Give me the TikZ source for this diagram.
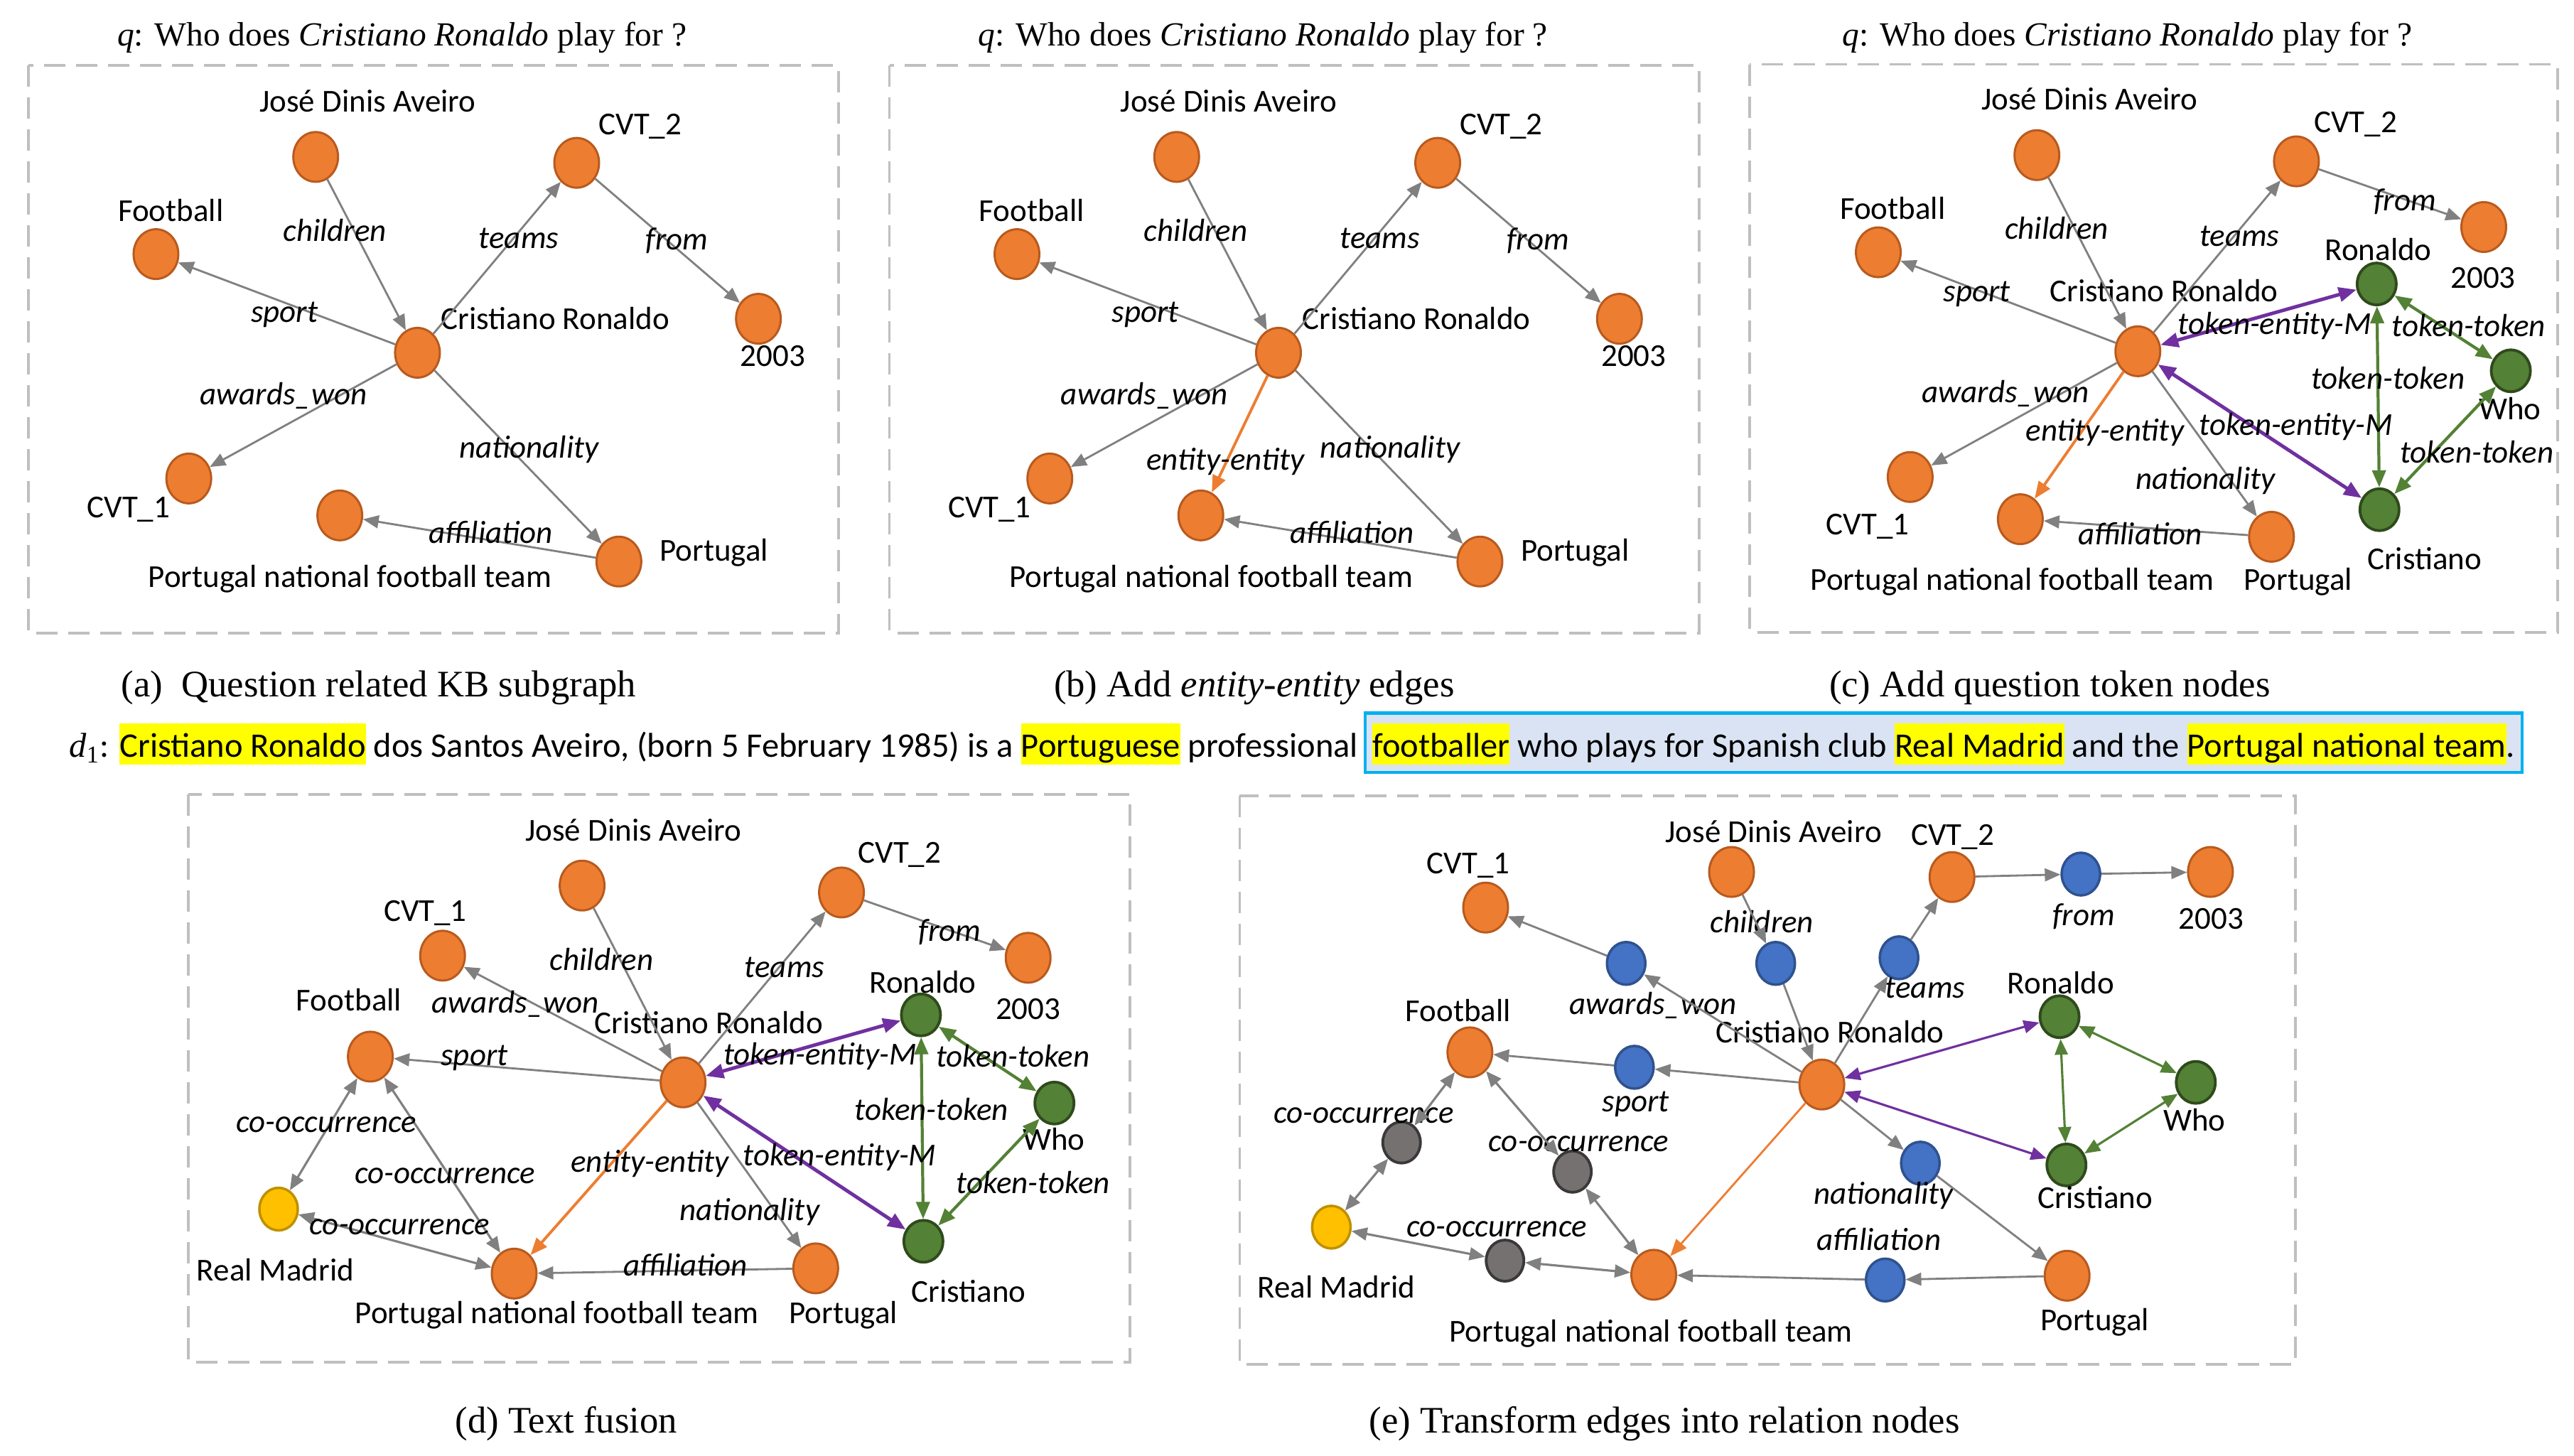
\documentclass[tikz,border=0pt]{standalone}
\usepackage{fontspec}
\setmainfont{Carlito}
\newfontfamily\serifcap{Liberation Serif}
\usetikzlibrary{shapes.geometric,arrows.meta}
\definecolor{entf}{HTML}{ED7D31}
\definecolor{entd}{HTML}{B85A1E}
\definecolor{tokf}{HTML}{538135}
\definecolor{tokd}{HTML}{2F4A1C}
\definecolor{relf}{HTML}{4472C4}
\definecolor{reld}{HTML}{2F528F}
\definecolor{cof}{HTML}{767171}
\definecolor{cod}{HTML}{3A3838}
\definecolor{rmf}{HTML}{FFC000}
\definecolor{rmd}{HTML}{BF9000}
\definecolor{edgec}{HTML}{808080}
\definecolor{purp}{HTML}{7030A0}
\definecolor{boxg}{HTML}{BFBFBF}
\definecolor{hly}{HTML}{FFFF00}
\definecolor{boxf}{HTML}{DAE3F3}
\definecolor{boxd}{HTML}{00B0F0}
\newcommand\lblfont{\fontsize{12.8}{15}\selectfont}
\newcommand\dfont{\fontsize{13.8}{16}\selectfont}
\newcommand\hlt[1]{{\setlength{\fboxsep}{0pt}\colorbox{hly}{\rule[-0.104cm]{0pt}{0.58cm}#1}}}
\newcommand\kbgraph[1]{%
 \node[ent] (#1jose) at (192.3,95.6) {};
 \node[lab] (#1josel) at (224,62) {José Dinis Aveiro};
 \node[ent] (#1cvt2) at (351.3,99.2) {};
 \node[lab] (#1cvt2l) at (390,75.8) {CVT\_2};
 \node[ent] (#1foot) at (95,154.8) {};
 \node[lab] (#1footl) at (104,128.6) {Football};
 \node[ent] (#1cr) at (254.3,214.9) {};
 \node[lab] (#1crl) at (338.3,194.5) {Cristiano Ronaldo};
 \node[ent] (#1y) at (462,194.2) {};
 \node[lab] (#1yl) at (470.7,217) {2003};
 \node[ent] (#1cvt1) at (115,291.5) {};
 \node[lab] (#1cvt1l) at (78.3,309) {CVT\_1};
 \node[ent] (#1pnft) at (207,314) {};
 \node[lab] (#1pnftl) at (213.3,351.8) {Portugal national football team};
 \node[ent] (#1por) at (377,342.1) {};
 \node[lab] (#1porl) at (435,335.5) {Portugal};
 \draw[rel] (#1jose) -- (#1cr);
 \draw[rel] (#1cr) -- (#1cvt2);
 \draw[rel] (#1cvt2) -- (#1y);
 \draw[rel] (#1cr) -- (#1foot);
 \draw[rel] (#1cr) -- (#1cvt1);
 \draw[rel] (#1cr) -- (#1por);
 \draw[rel] (#1por) -- (#1pnft);
 \node[elab] (#1e1) at (204,141) {children};
 \node[elab] (#1e2) at (316,145.2) {teams};
 \node[elab] (#1e3) at (412.3,146) {from};
 \node[elab] (#1e4) at (173.3,190) {sport};
 \node[elab] (#1e5) at (172.7,240.5) {awards\_won};
 \node[elab] (#1e6) at (322.3,272.7) {nationality};
 \node[elab] (#1e7) at (299,325) {affiliation};
 \draw[panelbox] (17.3,40) rectangle (510.7,385.7);
 \node[qline] (#1q) at (71.2,21) {\textit{q}: Who does \textit{Cristiano Ronaldo} play for ?};
}
\begin{document}
\begin{tikzpicture}[x=0.0231cm,y=-0.0231cm,
 ent/.style={ellipse, draw=entd, fill=entf, line width=0.85pt, minimum width=0.63cm, minimum height=0.70cm, inner sep=0pt},
 tok/.style={ellipse, draw=tokd, fill=tokf, line width=1.1pt, minimum width=0.55cm, minimum height=0.59cm, inner sep=0pt},
 reln/.style={ellipse, draw=reld, fill=relf, line width=1pt, minimum width=0.54cm, minimum height=0.60cm, inner sep=0pt},
 con/.style={ellipse, draw=cod, fill=cof, line width=1.1pt, minimum width=0.53cm, minimum height=0.58cm, inner sep=0pt},
 rmn/.style={ellipse, draw=rmd, fill=rmf, line width=1pt, minimum width=0.54cm, minimum height=0.60cm, inner sep=0pt},
 lab/.style={inner sep=0pt, text height=8.1pt, text depth=0pt, font=\lblfont},
 elab/.style={inner sep=0pt, text height=8.1pt, text depth=0pt, font=\lblfont\itshape},
 qline/.style={inner sep=0pt, anchor=west, text height=8.9pt, text depth=0pt, font=\serifcap\fontsize{13.5}{16}\selectfont},
 capt/.style={inner sep=0pt, text height=9.9pt, text depth=0pt, font=\serifcap\fontsize{15}{18}\selectfont},
 panelbox/.style={draw=boxg, line width=1.1pt, dash pattern=on 0.3cm off 0.15cm},
 rel/.style={draw=edgec, line width=0.8pt, -{Triangle[length=0.22cm,width=0.18cm]}},
 relb/.style={draw=edgec, line width=0.9pt, {Triangle[length=0.22cm,width=0.18cm]}-{Triangle[length=0.22cm,width=0.18cm]}},
 eent/.style={draw=entf, line width=1.1pt, -{Triangle[length=0.24cm,width=0.19cm]}},
 tem/.style={draw=purp, line width=1.4pt, {Triangle[length=0.25cm,width=0.2cm]}-{Triangle[length=0.25cm,width=0.2cm]}},
 ttk/.style={draw=tokf, line width=1.2pt, {Triangle[length=0.24cm,width=0.19cm]}-{Triangle[length=0.24cm,width=0.19cm]}},
 temthin/.style={draw=purp, line width=0.9pt, {Triangle[length=0.22cm,width=0.18cm]}-{Triangle[length=0.22cm,width=0.18cm]}},
 ttkthin/.style={draw=tokf, line width=0.9pt, {Triangle[length=0.22cm,width=0.18cm]}-{Triangle[length=0.22cm,width=0.18cm]}}
]
\useasboundingbox (0,0) rectangle (1568,886.6);
% ---------- (a)
\kbgraph{a}
\node[capt, anchor=west] (capa) at (73.5,416.9) {(a)\ \ Question related KB subgraph};
% ---------- (b)
\begin{scope}[shift={(524.5,0)}]
\kbgraph{b}
\draw[eent] (bcr) -- (bpnft);
\node[elab] (be8) at (222,280) {entity-entity};
\end{scope}
\node[capt] (capb) at (764,416.9) {(b) Add \textit{entity-entity} edges};
% ---------- (c)
\draw[panelbox] (1065.8,39.2) rectangle (1558,385.1);
\node[qline] (cq) at (1122.2,21) {\textit{q}: Who does \textit{Cristiano Ronaldo} play for ?};
\node[ent] (cjose) at (1240.8,94.5) {};
\node[lab] (cjosel) at (1272.9,60.6) {José Dinis Aveiro};
\node[ent] (ccvt2) at (1398.9,98.3) {};
\node[lab] (ccvt2l) at (1434.9,74.4) {CVT\_2};
\node[ent] (cy) at (1513,138.3) {};
\node[lab] (cyl) at (1512.6,169.4) {2003};
\node[ent] (cfoot) at (1144.2,153.7) {};
\node[lab] (cfootl) at (1153,127.3) {Football};
\node[ent] (ccr) at (1302.3,214) {};
\node[lab] (ccrl) at (1318.2,177.7) {Cristiano Ronaldo};
\node[tok] (cron) at (1447.8,173) {};
\node[lab] (cronl) at (1448.8,152.3) {Ronaldo};
\node[tok] (cwho) at (1529.5,225.9) {};
\node[lab] (cwhol) at (1528.9,249.3) {Who};
\node[tok] (ccris) at (1449.5,310.5) {};
\node[lab] (ccrisl) at (1477,341) {Cristiano};
\node[ent] (ccvt1) at (1163.6,290.6) {};
\node[lab] (ccvt1l) at (1137.7,319.6) {CVT\_1};
\node[ent] (cpnft) at (1230.7,316.3) {};
\node[lab] (cpnftl) at (1225.9,353.4) {Portugal national football team};
\node[ent] (cpor) at (1383.7,327) {};
\node[lab] (cporl) at (1399.9,353.4) {Portugal};
\draw[rel] (cjose) -- (ccr);
\draw[rel] (ccr) -- (ccvt2);
\draw[rel] (ccvt2) -- (cy);
\draw[rel] (ccr) -- (cfoot);
\draw[rel] (ccr) -- (ccvt1);
\draw[rel] (ccr) -- (cpor);
\draw[rel] (cpor) -- (cpnft);
\draw[eent] (ccr) -- (cpnft);
\draw[tem] (ccr) -- (cron);
\draw[tem] (ccr) -- (ccris);
\draw[ttk] (cron) -- (cwho);
\draw[ttk] (cron) -- (ccris);
\draw[ttk] (cwho) -- (ccris);
\node[elab] (ce1) at (1252.8,139.7) {children};
\node[elab] (ce2) at (1364.2,143.8) {teams};
\node[elab] (ce3) at (1465,122) {from};
\node[elab] (ce4) at (1204.2,177.7) {sport};
\node[elab] (ce5) at (1221.7,239.1) {awards\_won};
\node[elab] (ce6) at (1282.2,262.3) {entity-entity};
\node[elab] (ce7) at (1343.5,292) {nationality};
\node[elab] (ce8) at (1303.6,325.6) {affiliation};
\node[elab] (ce9) at (1385.6,197.5) {token-entity-M};
\node[elab] (ce10) at (1398.6,259) {token-entity-M};
\node[elab] (ce11) at (1503.9,199) {token-token};
\node[elab] (ce12) at (1454.6,230.9) {token-token};
\node[elab] (ce13) at (1508.8,276) {token-token};
\node[capt, anchor=west] (capc) at (1114,416.9) {(c) Add question token nodes};
% ---------- text line
\node[anchor=base west, inner sep=0pt, font=\dfont] (d1a) at (42,461.4) {{\serifcap\itshape d}\textsubscript{\serifcap 1}: \hlt{Cristiano Ronaldo} dos Santos Aveiro, (born 5 February 1985) is a \hlt{Portuguese} professional};
\node[anchor=base west, font=\dfont, fill=boxf, draw=boxd, line width=1.3pt, inner xsep=0.1cm, inner ysep=0pt, text height=0.624cm, text depth=0.21cm] (d1b) at ([xshift=2pt]d1a.base east) {\hlt{footballer} who plays for Spanish club \hlt{Real Madrid} and the \hlt{Portugal national team}.};
% ---------- (d)
\draw[panelbox] (114.9,484) rectangle (688.5,830);
\node[ent] (djose) at (354.6,539.5) {};
\node[lab] (djosel) at (385.9,506.3) {José Dinis Aveiro};
\node[ent] (dcvt2) at (512.6,543.7) {};
\node[lab] (dcvt2l) at (548,519.4) {CVT\_2};
\node[ent] (dy) at (626.3,583.5) {};
\node[lab] (dyl) at (626.3,614.9) {2003};
\node[ent] (dcvt1) at (269.6,582.2) {};
\node[lab] (dcvt1l) at (259.1,555.2) {CVT\_1};
\node[ent] (dfoot) at (225.6,643.7) {};
\node[lab] (dfootl) at (212.6,609.7) {Football};
\node[ent] (dcr) at (416.1,659.4) {};
\node[lab] (dcrl) at (431.7,623.3) {Cristiano Ronaldo};
\node[tok] (dron) at (561,618.3) {};
\node[lab] (dronl) at (562.2,598.7) {Ronaldo};
\node[tok] (dwho) at (642.3,672) {};
\node[lab] (dwhol) at (641.9,694.7) {Who};
\node[tok] (dcris) at (562.5,756.2) {};
\node[lab] (dcrisl) at (590.1,787.1) {Cristiano};
\node[rmn] (drm) at (169.7,736.6) {};
\node[lab] (drml) at (167.8,774) {Real Madrid};
\node[ent] (dpnft) at (313.2,775.9) {};
\node[lab] (dpnftl) at (339.3,800.2) {Portugal national football team};
\node[ent] (dpor) at (496.9,772.7) {};
\node[lab] (dporl) at (513.7,800.2) {Portugal};
\draw[rel] (djose) -- (dcr);
\draw[rel] (dcr) -- (dcvt2);
\draw[rel] (dcvt2) -- (dy);
\draw[rel] (dcr) -- (dcvt1);
\draw[rel] (dcr) -- (dfoot);
\draw[rel] (dcr) -- (dpor);
\draw[rel] (dpor) -- (dpnft);
\draw[eent] (dcr) -- (dpnft);
\draw[relb] (dfoot) -- (drm);
\draw[relb] (dfoot) -- (dpnft);
\draw[relb] (drm) -- (dpnft);
\draw[tem] (dcr) -- (dron);
\draw[tem] (dcr) -- (dcris);
\draw[ttk] (dron) -- (dwho);
\draw[ttk] (dron) -- (dcris);
\draw[ttk] (dwho) -- (dcris);
\node[elab] (de1) at (366.5,584.8) {children};
\node[elab] (de2) at (477.9,589.3) {teams};
\node[elab] (de3) at (578.6,567.3) {from};
\node[elab] (de4) at (314,611) {awards\_won};
\node[elab] (de5) at (289,642.9) {sport};
\node[elab] (de6) at (499.5,642.4) {token-entity-M};
\node[elab] (de7) at (617,643.7) {token-token};
\node[elab] (de8) at (567.4,676.4) {token-token};
\node[elab] (de9) at (511.5,703.9) {token-entity-M};
\node[elab] (de10) at (629.3,720.9) {token-token};
\node[elab] (de11) at (198.8,683.5) {co-occurrence};
\node[elab] (de12) at (271.1,714.9) {co-occurrence};
\node[elab] (de13) at (243.5,745.8) {co-occurrence};
\node[elab] (de14) at (395.9,707.8) {entity-entity};
\node[elab] (de15) at (456.7,737.4) {nationality};
\node[elab] (de16) at (417.6,771.1) {affiliation};
\node[capt] (capd) at (345,865.6) {(d) Text fusion};
% ---------- (e)
\draw[panelbox] (755.2,484.8) rectangle (1398.1,831.3);
\node[ent] (ejose) at (1054.8,531.2) {};
\node[lab] (ejosel) at (1080.4,507.1) {José Dinis Aveiro};
\node[ent] (ecvt2) at (1189.1,534.3) {};
\node[lab] (ecvt2l) at (1189.5,508.9) {CVT\_2};
\node[reln] (efrom) at (1267.6,532.5) {};
\node[elab] (efroml) at (1269.3,557.9) {from};
\node[ent] (ey) at (1346.5,531.2) {};
\node[lab] (eyl) at (1346.9,560) {2003};
\node[ent] (ecvt1) at (905,552.9) {};
\node[lab] (ecvt1l) at (894.5,525.9) {CVT\_1};
\node[reln] (eaw) at (990.6,586.9) {};
\node[elab] (eawl) at (1007,611.8) {awards\_won};
\node[reln] (ech) at (1081.7,586.9) {};
\node[elab] (echl) at (1073.3,562) {children};
\node[reln] (etm) at (1156.8,583.5) {};
\node[elab] (etml) at (1172.7,601.8) {teams};
\node[ent] (efoot) at (895.4,641.1) {};
\node[lab] (efootl) at (888.2,616.2) {Football};
\node[reln] (esp) at (995.6,650.2) {};
\node[elab] (espl) at (996.5,671.2) {sport};
\node[ent] (ecr) at (1109.8,660.7) {};
\node[lab] (ecrl) at (1114.8,629.3) {Cristiano Ronaldo};
\node[tok] (eron) at (1254.6,619.4) {};
\node[lab] (eronl) at (1255.4,599.2) {Ronaldo};
\node[tok] (ewho) at (1337.6,659.4) {};
\node[lab] (ewhol) at (1336.8,683) {Who};
\node[tok] (ecris) at (1258.8,709.7) {};
\node[lab] (ecrisl) at (1276.4,730.1) {Cristiano};
\node[reln] (enat) at (1169.8,708.6) {};
\node[elab] (enatl) at (1147.5,727.4) {nationality};
\node[con] (eco1) at (853.8,696) {};
\node[elab] (eco1l) at (830.7,678.2) {co-occurrence};
\node[con] (eco2) at (957.9,713.8) {};
\node[elab] (eco2l) at (961.7,695.3) {co-occurrence};
\node[con] (eco3) at (916.8,768) {};
\node[elab] (eco3l) at (911.7,747.1) {co-occurrence};
\node[rmn] (erm) at (811,747.6) {};
\node[lab] (erml) at (814,784.5) {Real Madrid};
\node[reln] (eaf) at (1148.4,779.8) {};
\node[elab] (eafl) at (1144.6,755.7) {affiliation};
\node[ent] (epnft) at (1007.4,776.6) {};
\node[lab] (epnftl) at (1005.7,811.2) {Portugal national football team};
\node[ent] (epor) at (1259.2,777.2) {};
\node[lab] (eporl) at (1276,804.6) {Portugal};
\draw[rel] (ecr) -- (eaw);
\draw[rel] (eaw) -- (ecvt1);
\draw[rel] (ejose) -- (ech);
\draw[rel] (ech) -- (ecr);
\draw[rel] (ecr) -- (etm);
\draw[rel] (etm) -- (ecvt2);
\draw[rel] (ecvt2) -- (efrom);
\draw[rel] (efrom) -- (ey);
\draw[rel] (ecr) -- (esp);
\draw[rel] (esp) -- (efoot);
\draw[rel] (ecr) -- (enat);
\draw[rel] (enat) -- (epor);
\draw[rel] (epor) -- (eaf);
\draw[rel] (eaf) -- (epnft);
\draw[eent, line width=0.8pt] (ecr) -- (epnft);
\draw[temthin] (ecr) -- (eron);
\draw[temthin] (ecr) -- (ecris);
\draw[ttkthin] (eron) -- (ewho);
\draw[ttkthin] (eron) -- (ecris);
\draw[ttkthin] (ewho) -- (ecris);
\draw[relb] (efoot) -- (eco1);
\draw[relb] (eco1) -- (erm);
\draw[relb] (efoot) -- (eco2);
\draw[relb] (eco2) -- (epnft);
\draw[relb] (erm) -- (eco3);
\draw[relb] (eco3) -- (epnft);
\node[capt] (cape) at (1014,865.6) {(e) Transform edges into relation nodes};
\end{tikzpicture}
\end{document}
